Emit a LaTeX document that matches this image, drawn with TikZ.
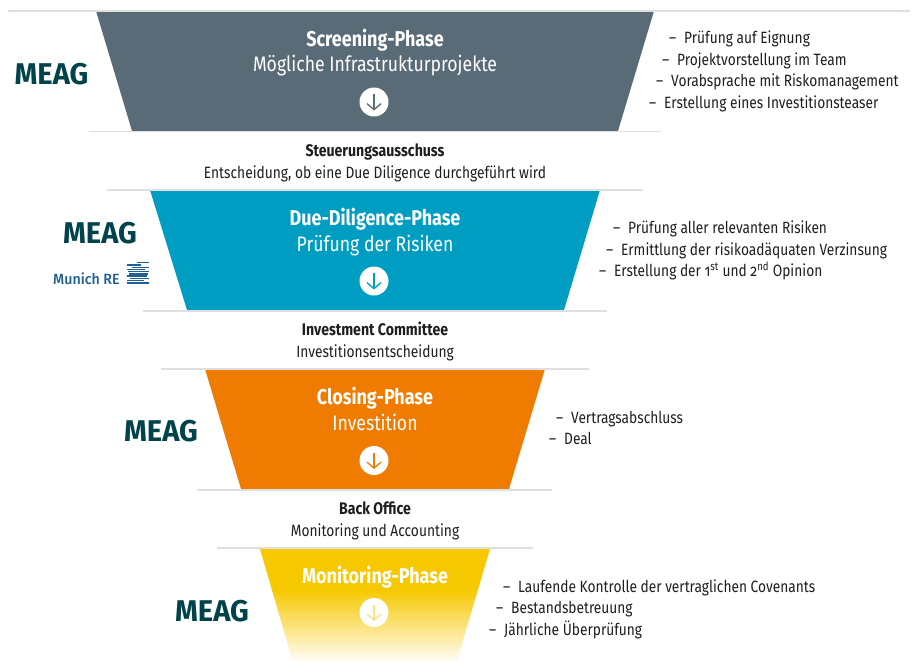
\documentclass[tikz,border=0pt]{standalone}
\usepackage{fontspec}
\setmainfont{Fira Sans}[FakeStretch=0.84]
\newfontfamily\logofont{Fira Sans}[FakeStretch=0.97]
\newfontfamily\munichfont{Fira Sans Medium}[FakeStretch=0.96]
\usetikzlibrary{arrows.meta}
\definecolor{cslate}{HTML}{5A6B78}
\definecolor{cblue}{HTML}{009DC3}
\definecolor{corange}{HTML}{EF7C00}
\definecolor{cyellow}{HTML}{F6C800}
\definecolor{cteal}{HTML}{00434A}
\definecolor{cmunich}{HTML}{1F5F94}
\definecolor{crule}{HTML}{DDDFE0}
\definecolor{ctext}{HTML}{1E1E1E}
\tikzset{
  rulex/.style={draw=crule,line width=1.2pt},
  phasetitle/.style={text=white,font=\fontsize{21.4}{24}\selectfont\bfseries,inner sep=0pt,anchor=base},
  phasesub/.style={text=white,font=\fontsize{21}{24}\selectfont,inner sep=0pt,anchor=base},
  gatetitle/.style={text=ctext,font=\fontsize{16.8}{18}\selectfont\bfseries,inner sep=0pt,anchor=base},
  gatesub/.style={text=ctext,font=\fontsize{16.4}{18}\selectfont,inner sep=0pt,anchor=base},
  item/.style={text=ctext,font=\fontsize{16.35}{18}\selectfont,inner sep=0pt,anchor=base west},
  logo/.style={text=cteal,font=\logofont\fontsize{30}{32}\selectfont\bfseries,inner sep=0pt,anchor=base},
  disc/.style={circle,fill=white,minimum size=29pt,inner sep=0pt},
  downarrow/.style={line width=1.3pt,-{Straight Barb[length=6pt,width=14pt,line width=1.3pt]}},
}
\newcommand{\dashitem}[1]{\makebox[15pt][l]{--}#1}
\newcommand{\oldnum}[1]{{\addfontfeature{Numbers=OldStyle}#1}}
\begin{document}
\begin{tikzpicture}[x=1pt,y=-1pt]
\useasboundingbox (0,0) rectangle (912,662);
% phases
\fill[cslate] (96,11) -- (654,11) -- (618,131) -- (132,131) -- cycle;
\fill[cblue] (150,190) -- (600,190) -- (564,310) -- (187,310) -- cycle;
\fill[corange] (205,369) -- (545,369) -- (509,489) -- (241,489) -- cycle;
\begin{scope}
\clip (260,549) -- (490,549) -- (456.5,662) -- (293,662) -- cycle;
\fill[cyellow] (250,549) rectangle (500,590);
\shade[top color=cyellow,bottom color=white] (250,589.5) rectangle (500,664);
\end{scope}
% rules
\draw[rulex] (8,11) -- (910,11);
\draw[rulex] (89,131.5) -- (661,131.5);
\draw[rulex] (107,190) -- (643,190);
\draw[rulex] (143,311) -- (607,311);
\draw[rulex] (161,369) -- (589,369);
\draw[rulex] (197,490) -- (552,490);
\draw[rulex] (217,548) -- (533,548);
% titles
\node[phasetitle] (t1) at (375,46) {Screening-Phase};
\node[phasesub] (s1) at (375,71) {Mögliche Infrastrukturprojekte};
\node[phasetitle] (t2) at (375,225) {Due-Diligence-Phase};
\node[phasesub] (s2) at (375,251) {Prüfung der Risiken};
\node[phasetitle] (t3) at (375,404) {Closing-Phase};
\node[phasesub] (s3) at (375,430) {Investition};
\node[phasetitle] (t4) at (375,583.5) {Monitoring-Phase};
% discs
\node[disc] (d1) at (374,102) {};
\draw[downarrow,draw=cslate] (374,94) -- (374,110.5);
\node[disc] (d2) at (374,281) {};
\draw[downarrow,draw=cblue] (374,273) -- (374,289.5);
\node[disc] (d3) at (374,460.5) {};
\draw[downarrow,draw=corange] (374,452.5) -- (374,469);
\node[disc] (d4) at (374,612.5) {};
\draw[downarrow,draw=cyellow!50!white] (374,604.5) -- (374,621);
% gates
\node[gatetitle] (g1) at (375,156) {Steuerungsausschuss};
\node[gatesub] (g1s) at (375,178) {Entscheidung, ob eine Due Diligence durchgeführt wird};
\node[gatetitle] (g2) at (375,335) {Investment Committee};
\node[gatesub] (g2s) at (375,357) {Investitionsentscheidung};
\node[gatetitle] (g3) at (375,514) {Back Office};
\node[gatesub] (g3s) at (375,536) {Monitoring und Accounting};
% logos
\node[logo] (l1) at (51.5,84) {MEAG};
\node[logo] (l2) at (100,243) {MEAG};
\node[logo] (l3) at (161,441) {MEAG};
\node[logo] (l4) at (212,621) {MEAG};
\node[text=cmunich,font=\munichfont\fontsize{14.8}{16}\selectfont,inner sep=0pt,anchor=base west] (mr) at (53,284) {Munich RE};
\foreach \yy/\xa/\xb in {262/137/149,264.4/127/141,266.6/132/149,268.8/127/145,271/128/149,273.2/129/148,275.4/127/147,277.6/130/149,279.8/127/144,282.2/127/139,282.2/134/149}
  \fill[cmunich] (\xa,\yy) rectangle (\xb,\yy+1.3);
% items
\node[item] (a1) at (669,43.5) {\dashitem{Prüfung auf Eignung}};
\node[item] (a2) at (662,65.5) {\dashitem{Projektvorstellung im Team}};
\node[item] (a3) at (656,86.5) {\dashitem{Vorabsprache mit Riskomanagement}};
\node[item] (a4) at (649,108.5) {\dashitem{Erstellung eines Investitionsteaser}};
\node[item] (b1) at (613,233.5) {\dashitem{Prüfung aller relevanten Risiken}};
\node[item] (b2) at (606,255.5) {\dashitem{Ermittlung der risikoadäquaten Verzinsung}};
\node[item] (b3) at (599,276.5) {\dashitem{Erstellung der \oldnum{1}\textsuperscript{st} und \oldnum{2}\textsuperscript{nd} Opinion}};
\node[item] (c1) at (556,423.5) {\dashitem{Vertragsabschluss}};
\node[item] (c2) at (549,444.5) {\dashitem{Deal}};
\node[item] (e1) at (503,592.5) {\dashitem{Laufende Kontrolle der vertraglichen Covenants}};
\node[item] (e2) at (496,613.5) {\dashitem{Bestandsbetreuung}};
\node[item] (e3) at (489,635.5) {\dashitem{Jährliche Überprüfung}};
\end{tikzpicture}
\end{document}
